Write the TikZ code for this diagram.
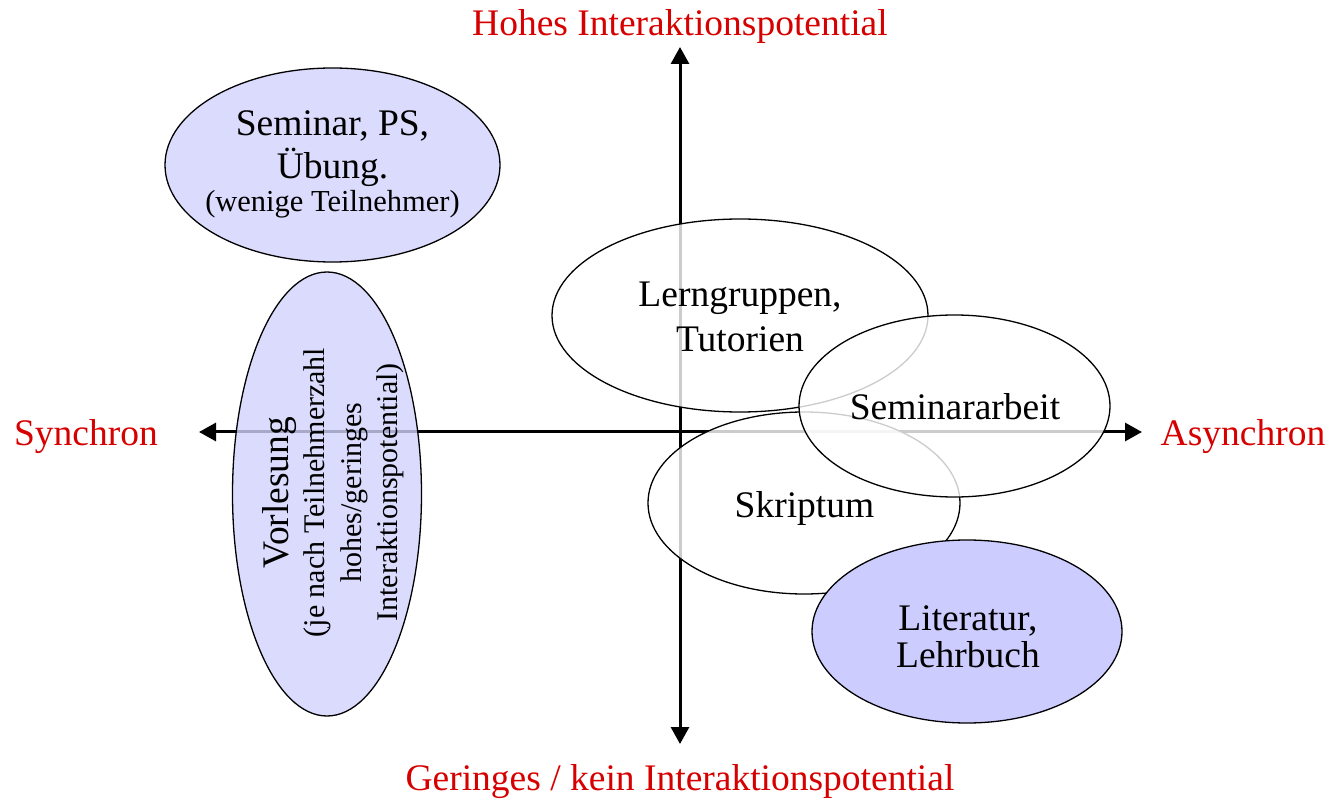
\documentclass[tikz,border=0pt]{standalone}
\usepackage{fontspec}
\setmainfont{Liberation Serif}
\usetikzlibrary{arrows.meta,shapes.geometric}

\definecolor{axisred}{RGB}{215,0,0}
\definecolor{lavlight}{RGB}{210,210,252}
\definecolor{lavsolid}{RGB}{204,204,255}

\tikzset{
  axisline/.style={line width=1.5pt,
    {Triangle[length=8.5pt,width=9pt]}-{Triangle[length=8.5pt,width=9pt]}},
  axlabel/.style={text=axisred, anchor=base, font=\fontsize{18.75}{22}\selectfont},
  patch/.style={ellipse, draw, line width=0.65pt, fill opacity=0.8},
  clearpatch/.style={patch, fill=white},
  lavpatch/.style={patch, fill=lavlight},
  solidpatch/.style={ellipse, draw, line width=0.65pt, fill=lavsolid},
  bigtext/.style={align=center, font=\fontsize{18.75}{22}\selectfont},
}

\begin{document}
\begin{tikzpicture}[x=0.5pt, y=-0.5pt,
  every node/.style={inner sep=0pt, outer sep=0pt}]
\useasboundingbox (0,0) rectangle (1329,802);

% axes
\coordinate (west)  at (199,432);
\coordinate (east)  at (1142,432);
\coordinate (north) at (680,47);
\coordinate (south) at (680,744);
\draw[axisline] (west) -- (east);
\draw[axisline] (south) -- (north);

% axis captions
\node[axlabel] (high)  at (680,36)  {Hohes Interaktionspotential};
\node[axlabel] (low)   at (680,790) {Geringes / kein Interaktionspotential};
\node[axlabel] (sync)  at (86,445)  {Synchron};
\node[axlabel] (async) at (1243,445) {Asynchron};

% Seminar / PS / Übung
\node[lavpatch, minimum width=167.5pt, minimum height=97pt] (seminar) at (332.5,165) {};
\node[bigtext, font=\fontsize{18.75}{21.5}\selectfont] (seminarT) at (332.5,164)
  {Seminar, PS,\\Übung.\\[-5pt]{\fontsize{15.25}{16.5}\selectfont(wenige Teilnehmer)}};

% Vorlesung (vertical)
\node[lavpatch, minimum width=94.5pt, minimum height=222pt] (lecture) at (327,494) {};
\node[rotate=90, align=center, font=\fontsize{15}{18.25}\selectfont] (lectureT) at (333,492.5)
  {{\fontsize{18.75}{18.25}\selectfont Vorlesung}\\(je nach Teilnehmerzahl\\hohes/geringes\\Interaktionspotential)};

% Lerngruppen, Tutorien
\node[clearpatch, minimum width=188pt, minimum height=96.5pt] (groups) at (740,315.5) {};
\node[bigtext, font=\fontsize{18.75}{22.5}\selectfont] (groupsT) at (740,316.7)
  {Lerngruppen,\\Tutorien};

% Skriptum
\node[clearpatch, minimum width=156pt, minimum height=91pt] (script) at (804,503) {};
\node[bigtext] (scriptT) at (804.5,508.5) {Skriptum};

% Seminararbeit
\node[clearpatch, minimum width=155.5pt, minimum height=91pt] (paper) at (954.5,406) {};
\node[bigtext] (paperT) at (955,406.5) {Seminararbeit};

% Literatur, Lehrbuch
\node[solidpatch, minimum width=155pt, minimum height=91.5pt] (books) at (967,631.5) {};
\node[bigtext, font=\fontsize{18.75}{18.8}\selectfont] (booksT) at (968,636.7)
  {Literatur,\\Lehrbuch};
\end{tikzpicture}
\end{document}
